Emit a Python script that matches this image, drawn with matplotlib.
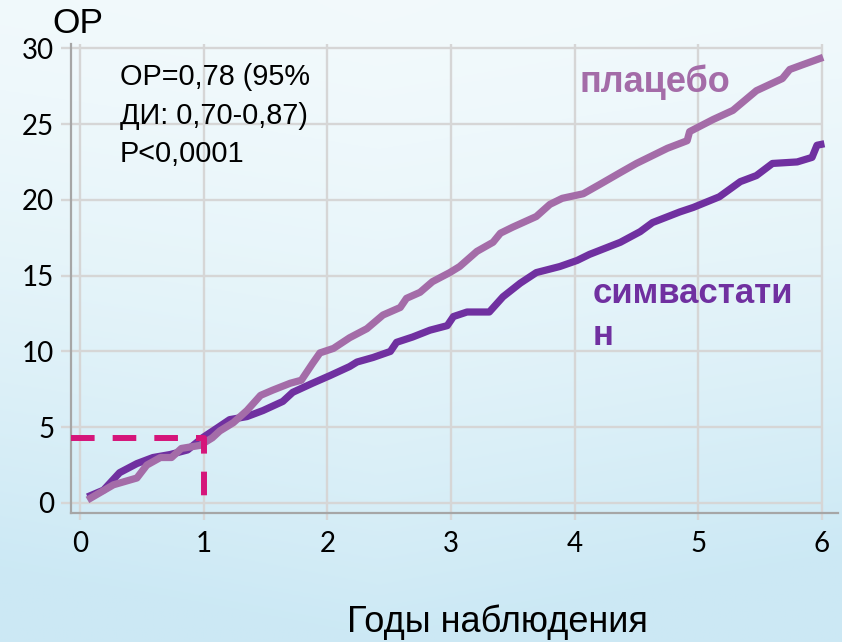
import matplotlib.pyplot as plt
import numpy as np

plt.rcParams['lines.scale_dashes'] = False
plt.rcParams['font.family'] = ['Liberation Sans', 'DejaVu Sans']

# cumulative events (%) by year
placebo_years = [0.06, 0.27, 0.46, 0.54, 0.65, 0.74, 0.82, 0.97, 1.07, 1.13, 1.24, 1.35,
                 1.46, 1.56, 1.70, 1.79, 1.88, 1.94, 2.05, 2.18, 2.32, 2.45, 2.59, 2.64,
                 2.75, 2.85, 2.99, 3.07, 3.21, 3.34, 3.40, 3.50, 3.69, 3.80, 3.90, 4.07,
                 4.20, 4.37, 4.50, 4.75, 4.91, 4.93, 5.12, 5.28, 5.47, 5.68, 5.74, 5.84, 6.01]
placebo_pct = [0.2, 1.2, 1.65, 2.5, 3.0, 3.0, 3.6, 3.8, 4.3, 4.75, 5.3, 6.1,
               7.1, 7.45, 7.9, 8.1, 9.2, 9.9, 10.2, 10.9, 11.5, 12.4, 12.9, 13.5,
               13.9, 14.6, 15.2, 15.6, 16.6, 17.2, 17.8, 18.2, 18.9, 19.7, 20.1, 20.4,
               21.0, 21.8, 22.4, 23.4, 23.9, 24.5, 25.3, 25.9, 27.2, 28.0, 28.6, 28.9, 29.4]

simva_years = [0.06, 0.19, 0.32, 0.46, 0.59, 0.73, 0.87, 0.99, 1.11, 1.21, 1.35, 1.48,
               1.64, 1.72, 1.88, 2.02, 2.18, 2.24, 2.37, 2.51, 2.56, 2.69, 2.83, 2.97,
               3.02, 3.13, 3.31, 3.42, 3.56, 3.69, 3.88, 4.02, 4.12, 4.37, 4.53, 4.63,
               4.85, 4.96, 5.17, 5.34, 5.47, 5.60, 5.80, 5.92, 5.96, 6.02]
simva_pct = [0.4, 0.85, 2.0, 2.6, 3.0, 3.2, 3.5, 4.3, 4.95, 5.5, 5.7, 6.1,
             6.7, 7.3, 7.9, 8.4, 9.0, 9.3, 9.6, 10.0, 10.6, 10.95, 11.4, 11.7,
             12.3, 12.6, 12.6, 13.6, 14.5, 15.2, 15.6, 16.0, 16.4, 17.2, 17.9, 18.5,
             19.2, 19.5, 20.2, 21.2, 21.6, 22.4, 22.5, 22.8, 23.6, 23.7]

x_ticks = [0, 1, 2, 3, 4, 5, 6]
y_ticks = [0, 5, 10, 15, 20, 25, 30]

# reference marker at 1 year
ref_year = 1
ref_pct = 4.3
ref_low = 0.4

stats_lines = ["ОР=0,78 (95%", "ДИ: 0,70-0,87)", "Р<0,0001"]

c_placebo = '#a46ca8'
c_simva = '#7030a0'
c_ref = '#d5157a'

fig = plt.figure(figsize=(8.42, 6.42), dpi=100)

# ---- background gradient
bg = fig.add_axes([0, 0, 1, 1], zorder=-10)
yy = np.linspace(0, 1, 300)[:, None]
xx = np.linspace(0, 1, 300)[None, :]
top = np.array([0.95, 0.98, 0.988])
bot = np.array([0.80, 0.913, 0.96])
w = np.clip(yy ** 1.5 + 0.3 * np.abs(xx - 0.45) * (0.3 + yy), 0, 1)
img = top[None, None, :] * (1 - w[..., None]) + bot[None, None, :] * w[..., None]
bg.imshow(img, aspect='auto', extent=[0, 1, 0, 1])
bg.axis('off')

# ---- main axes
x0, x1 = -0.073, 6.13
y0, y1 = -0.66, 30.28
ax = fig.add_axes([71 / 842, 1 - 513 / 642, (838 - 71) / 842, (513 - 44) / 642])
ax.set_facecolor('none')
ax.set_xlim(x0, x1)
ax.set_ylim(y0, y1)

ax.hlines(y_ticks, x0, 6, color='#d6d6d6', lw=1.7, zorder=0)
ax.vlines(x_ticks, y0, y1, color='#d6d6d6', lw=1.7, zorder=0)

for s in ['top', 'right']:
    ax.spines[s].set_visible(False)
for s in ['left', 'bottom']:
    ax.spines[s].set_color('#a6a6a6')
    ax.spines[s].set_linewidth(1.6)

ax.set_xticks(x_ticks)
ax.set_yticks(y_ticks)
ax.tick_params(axis='y', length=7, width=1.7, color='#d6d6d6', pad=5, labelsize=20)
ax.tick_params(axis='x', length=5, width=1.7, color='#d6d6d6', pad=8, labelsize=20)
for lab in ax.get_xticklabels() + ax.get_yticklabels():
    lab.set_family('Lato')

ax.plot(simva_years, simva_pct, color=c_simva, lw=5.2,
        solid_joinstyle='round', solid_capstyle='butt', zorder=3)
ax.plot(placebo_years, placebo_pct, color=c_placebo, lw=5.2,
        solid_joinstyle='round', solid_capstyle='butt', zorder=4)

ax.plot([x0, ref_year, ref_year], [ref_pct, ref_pct, ref_low], color=c_ref,
        lw=4.3, dashes=(17, 13), zorder=5)

# ---- texts
fig.text(52 / 842, 1 - 33 / 642, "ОР", fontsize=25.5, va='baseline')
for i, line in enumerate(stats_lines):
    fig.text(120 / 842, 1 - (85 + 38.5 * i) / 642, line, fontsize=20.8, va='baseline')

fig.text(579 / 842, 1 - 92 / 642, "плацебо", fontsize=26, fontweight='bold',
         color=c_placebo, va='baseline')
fig.text(593 / 842, 1 - 303 / 642, "симвастати", fontsize=25, fontweight='bold',
         color=c_simva, va='baseline')
fig.text(593 / 842, 1 - 345 / 642, "н", fontsize=25, fontweight='bold',
         color=c_simva, va='baseline')

fig.text(497 / 842, 1 - 632 / 642, "Годы наблюдения", fontsize=26,
         ha='center', va='baseline')

fig.savefig('out.png', dpi=100)
